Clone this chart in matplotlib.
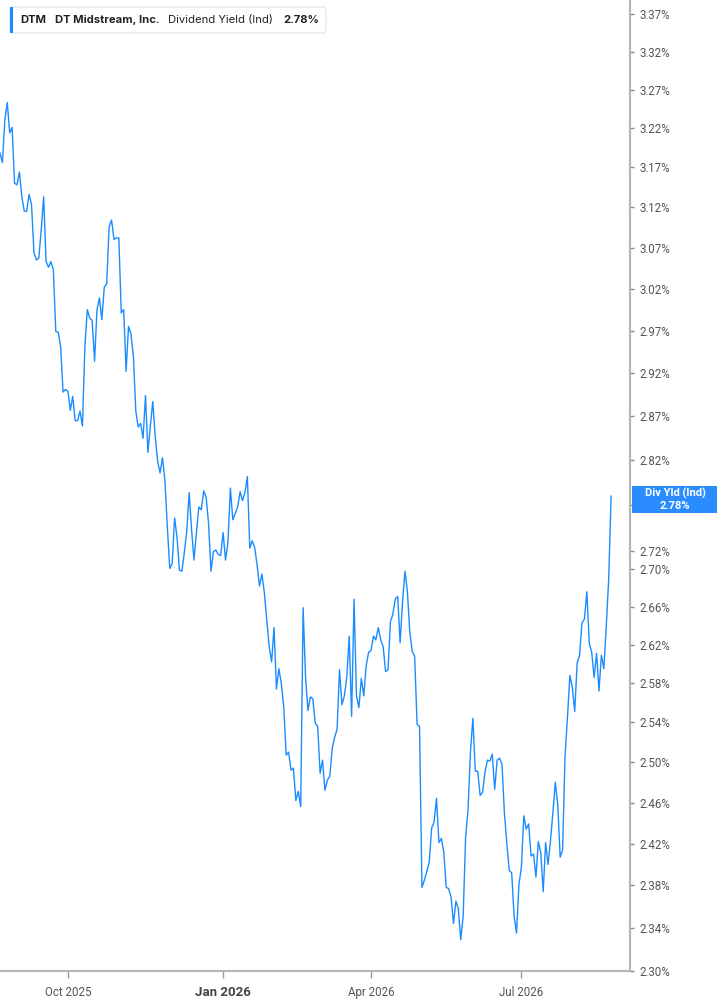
import matplotlib
matplotlib.use("Agg")
import matplotlib.pyplot as plt
import numpy as np
import pandas as pd
from matplotlib.patches import Rectangle, FancyBboxPatch
from matplotlib.ticker import NullLocator

# ---------------- data ----------------
ticker = "DTM"
company = "DT Midstream, Inc."
metric = "Dividend Yield (Ind)"
last_label = "2.78%"

holidays = ["2025-09-01", "2025-11-27", "2025-12-25", "2026-01-01", "2026-01-19",
            "2026-02-16", "2026-04-03", "2026-05-25", "2026-06-19", "2026-07-03"]
start_date = "2025-08-21"

div_yield = [
    3.188, 3.176, 3.231, 3.253, 3.214, 3.221, 3.150, 3.148, 3.164, 3.133,
    3.115, 3.115, 3.136, 3.123, 3.064, 3.055, 3.057, 3.092, 3.133, 3.053,
    3.046, 3.053, 3.043, 2.969, 2.968, 2.951, 2.898, 2.901, 2.899, 2.877,
    2.893, 2.865, 2.865, 2.876, 2.859, 2.951, 2.995, 2.985, 2.982, 2.934,
    2.995, 3.009, 2.983, 3.022, 3.026, 3.096, 3.104, 3.080, 3.082, 3.082,
    2.991, 2.995, 2.922, 2.975, 2.966, 2.940, 2.876, 2.858, 2.862, 2.845,
    2.894, 2.829, 2.859, 2.887, 2.847, 2.819, 2.806, 2.823, 2.798, 2.746,
    2.701, 2.706, 2.756, 2.735, 2.699, 2.698, 2.718, 2.741, 2.784, 2.743,
    2.710, 2.740, 2.768, 2.765, 2.786, 2.779, 2.750, 2.698, 2.719, 2.721,
    2.716, 2.715, 2.740, 2.710, 2.729, 2.789, 2.754, 2.761, 2.768, 2.785,
    2.775, 2.784, 2.802, 2.723, 2.731, 2.724, 2.705, 2.682, 2.695, 2.675,
    2.646, 2.618, 2.602, 2.638, 2.574, 2.595, 2.580, 2.556, 2.507, 2.510,
    2.492, 2.494, 2.462, 2.471, 2.456, 2.659, 2.586, 2.552, 2.566, 2.564,
    2.539, 2.536, 2.489, 2.502, 2.472, 2.482, 2.486, 2.514, 2.525, 2.533,
    2.594, 2.558, 2.567, 2.586, 2.629, 2.546, 2.668, 2.567, 2.555, 2.585,
    2.567, 2.598, 2.612, 2.614, 2.629, 2.625, 2.638, 2.625, 2.618, 2.592,
    2.594, 2.644, 2.652, 2.668, 2.671, 2.622, 2.665, 2.698, 2.676, 2.633,
    2.613, 2.608, 2.538, 2.536, 2.378, 2.385, 2.393, 2.402, 2.435, 2.441,
    2.464, 2.421, 2.425, 2.412, 2.378, 2.377, 2.369, 2.344, 2.365, 2.358,
    2.329, 2.351, 2.426, 2.453, 2.510, 2.544, 2.491, 2.491, 2.467, 2.470,
    2.490, 2.502, 2.501, 2.508, 2.473, 2.502, 2.504, 2.498, 2.450, 2.420,
    2.394, 2.392, 2.351, 2.335, 2.381, 2.397, 2.447, 2.434, 2.439, 2.408,
    2.410, 2.388, 2.422, 2.411, 2.374, 2.421, 2.400, 2.423, 2.450, 2.480,
    2.458, 2.407, 2.414, 2.506, 2.545, 2.588, 2.576, 2.551, 2.601, 2.609,
    2.643, 2.647, 2.676, 2.622, 2.612, 2.586, 2.611, 2.572, 2.609, 2.595,
    2.639, 2.689, 2.780,
]

ytick_values = [3.37, 3.32, 3.27, 3.22, 3.17, 3.12, 3.07, 3.02, 2.97, 2.92, 2.87,
                2.82, 2.77, 2.72, 2.70, 2.66, 2.62, 2.58, 2.54, 2.50, 2.46, 2.42,
                2.38, 2.34, 2.30]
hidden_ytick = 2.77  # covered by the last-value label box
xtick_months = ["2025-10", "2026-01", "2026-04", "2026-07"]
xtick_labels = ["Oct 2025", "Jan 2026", "Apr 2026", "Jul 2026"]
bold_xtick = "Jan 2026"

# ---------------- build ----------------
bday = pd.offsets.CustomBusinessDay(holidays=holidays)
dates = pd.date_range(start=start_date, periods=len(div_yield), freq=bday)
idx = np.arange(len(div_yield))

W, H = 717, 1005
fig = plt.figure(figsize=(W / 100, H / 100), dpi=100)
fig.patch.set_facecolor("white")

ax_l, ax_r, ax_b, ax_t = 0, 630, 971, 0
ax = fig.add_axes([ax_l / W, 1 - ax_b / H, (ax_r - ax_l) / W, (ax_b - ax_t) / H])
ax.set_facecolor("white")

line_color = "#1a8cff"
ax.plot(idx, div_yield, color=line_color, lw=1.0, solid_joinstyle="round")

ax.set_yscale("log")
ax.set_ylim(2.30, 3.389)
ax.set_xlim(0, 630 / 2.425)

ax.yaxis.set_minor_locator(NullLocator())
ax.set_yticks(ytick_values)
ax.set_yticklabels(["" if abs(v - hidden_ytick) < 1e-9 else f"{v:.2f}%"
                    for v in ytick_values])
ax.yaxis.tick_right()
ax.tick_params(axis="y", which="major", direction="out", length=3, width=1,
               color="#888888", labelsize=8.3, labelcolor="#555555", pad=4)
for lab in ax.get_yticklabels():
    lab.set_fontfamily("Roboto")

# x ticks at first trading day of each month
months = dates.to_period("M").astype(str)
xt = [int(np.argmax(months == m)) for m in xtick_months]
ax.set_xticks(xt)
ax.set_xticklabels(xtick_labels)
ax.tick_params(axis="x", direction="out", length=5, width=1, color="#999999",
               labelsize=8.3, labelcolor="#555555", pad=6)
for lab in ax.get_xticklabels():
    lab.set_fontfamily("Roboto")
    if lab.get_text() == bold_xtick:
        lab.set_fontweight("bold")
        lab.set_fontsize(9.5)
        lab.set_color("#444444")

for s in ["left", "top"]:
    ax.spines[s].set_visible(False)
for s in ["right", "bottom"]:
    ax.spines[s].set_color("#b5b5b5")
    ax.spines[s].set_linewidth(1.5)


def fx(x):
    return x / W


def fy(y):
    return 1 - y / H


# legend box top-left
box = FancyBboxPatch((fx(10), fy(33)), fx(326) - fx(10), fy(7) - fy(33),
                     boxstyle="round,pad=0,rounding_size=0.004",
                     transform=fig.transFigure, facecolor="white",
                     edgecolor="#e2e2e2", lw=0.8, zorder=5)
fig.add_artist(box)
bar = Rectangle((fx(10), fy(33)), fx(13) - fx(10), fy(7) - fy(33),
                transform=fig.transFigure, facecolor=line_color,
                edgecolor="none", zorder=6)
fig.add_artist(bar)
ty = fy(20)
kw = dict(transform=fig.transFigure, va="center", ha="left", fontsize=8.1,
          color="#222222", family="Inter", zorder=7)
fig.text(fx(20), ty, ticker, fontweight="bold", **kw)
fig.text(fx(55), ty, company, fontweight="bold", **kw)
fig.text(fx(168), ty, metric, fontweight="normal", **kw)
fig.text(fx(283), ty, last_label, fontweight="bold", **kw)

# last value label on right axis
lab_box = Rectangle((fx(632), fy(513)), fx(717) - fx(632), fy(486) - fy(513),
                    transform=fig.transFigure, facecolor="#2a8cff",
                    edgecolor="none", zorder=5)
fig.add_artist(lab_box)
fig.text(fx(675), fy(493), "Div Yld (Ind)", transform=fig.transFigure,
         ha="center", va="center", fontsize=8, color="white",
         fontweight="bold", family="Roboto", zorder=6)
fig.text(fx(675), fy(506), f"{div_yield[-1]:.2f}%", transform=fig.transFigure,
         ha="center", va="center", fontsize=8, color="white",
         fontweight="bold", family="Roboto", zorder=6)

fig.savefig("out.png", dpi=100, facecolor="white")
